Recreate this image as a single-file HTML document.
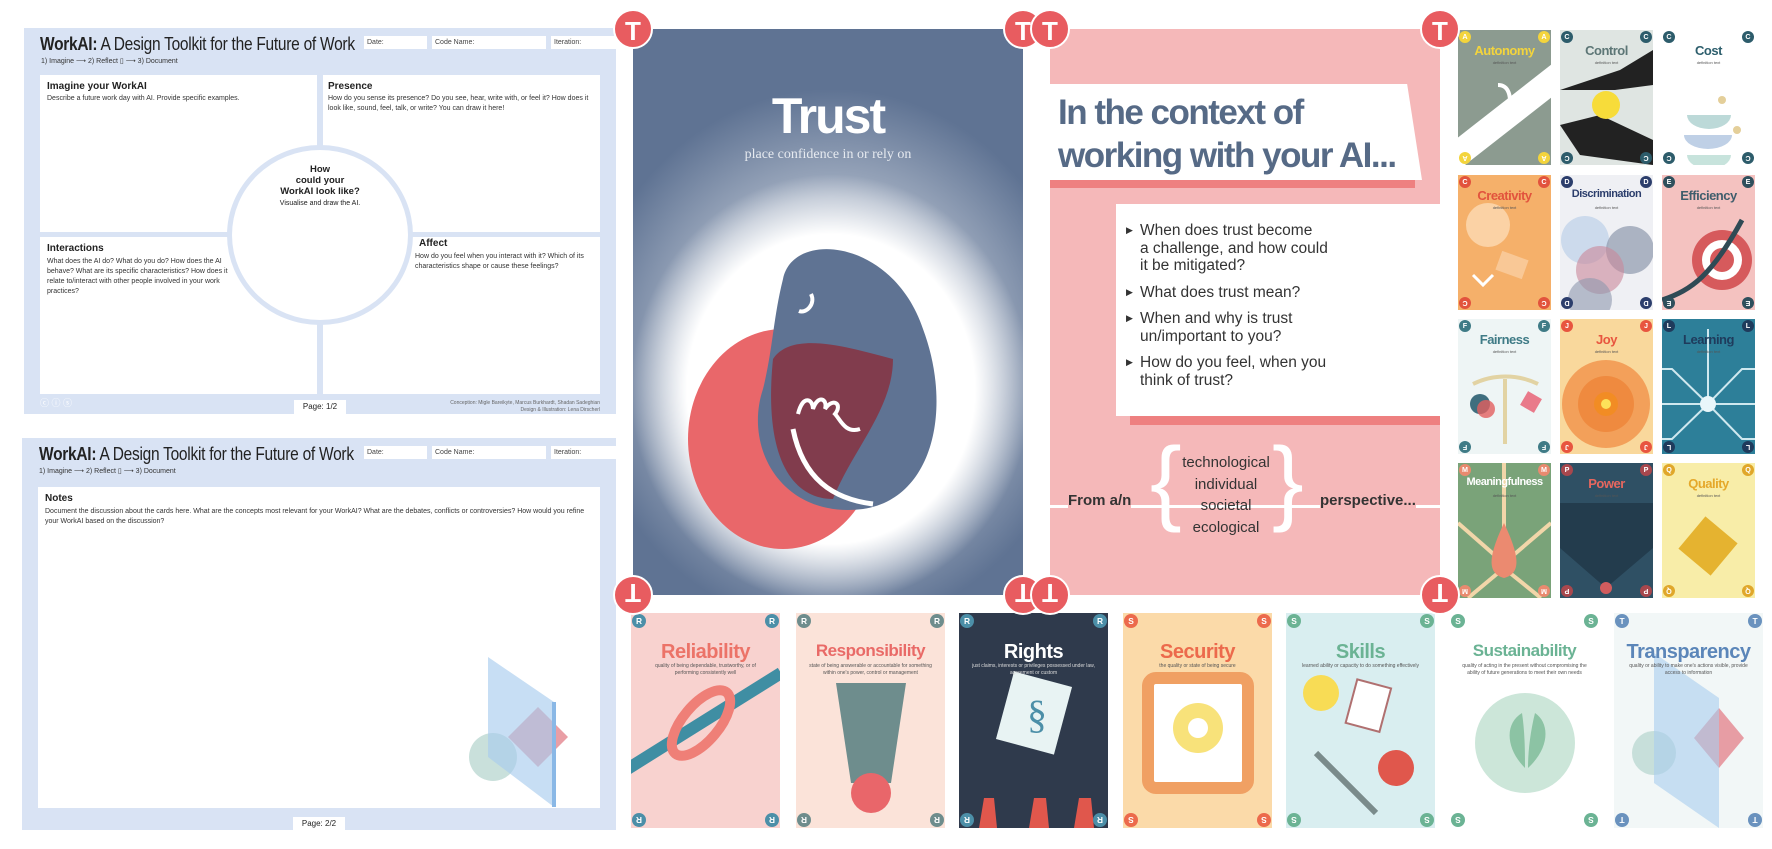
<!DOCTYPE html>
<html><head><meta charset="utf-8">
<style>
*{box-sizing:border-box;margin:0;padding:0}
body{width:1772px;height:849px;background:#fff;position:relative;overflow:hidden;font-family:"Liberation Sans",sans-serif;color:#222}
.abs{position:absolute}
.sheet{position:absolute;background:#d9e3f4}
.box{position:absolute;background:#fff}
.ttl{position:absolute;font-size:18px;white-space:nowrap;transform:scaleX(.86);transform-origin:left top;letter-spacing:-.3px}
.fld{position:absolute;background:#fff;font-size:7px;padding:3px 3px;color:#444}
.h{font-weight:bold;font-size:10px;position:absolute}
.p{font-size:7px;line-height:10px;position:absolute;color:#333}
.card{position:absolute;overflow:hidden}
.lc{position:absolute;border-radius:50%;color:#fff;font-weight:bold;text-align:center}
.ct{position:absolute;left:0;right:0;text-align:center;font-weight:bold;white-space:nowrap;letter-spacing:-.5px}
.cs{position:absolute;left:8%;right:8%;text-align:center;font-size:4px;line-height:6px;color:#555}
</style></head><body>

<!-- worksheet page 1 -->
<div class="sheet" style="left:24px;top:28px;width:592px;height:386px">
  <div class="ttl" style="left:16px;top:6px"><b>WorkAI:</b> A Design Toolkit for the Future of Work</div>
  <div class="fld" style="left:340px;top:8px;width:63px;height:13px">Date:</div>
  <div class="fld" style="left:408px;top:8px;width:114px;height:13px">Code Name:</div>
  <div class="fld" style="left:527px;top:8px;width:65px;height:13px">Iteration:</div>
  <div class="p" style="left:17px;top:29px">1) Imagine ⟶ 2) Reflect ▯ ⟶ 3) Document</div>
  <div class="box" style="left:16px;top:47px;width:277px;height:157px">
    <div class="h" style="left:7px;top:6px">Imagine your WorkAI</div>
    <div class="p" style="left:7px;top:19px">Describe a future work day with AI. Provide specific examples.</div>
  </div>
  <div class="box" style="left:299px;top:47px;width:277px;height:157px">
    <div class="h" style="left:5px;top:6px">Presence</div>
    <div class="p" style="left:5px;top:19px;width:270px">How do you sense its presence? Do you see, hear, write with, or feel it? How does it look like, sound, feel, talk, or write? You can draw it here!</div>
  </div>
  <div class="box" style="left:16px;top:209px;width:277px;height:157px">
    <div class="h" style="left:7px;top:6px">Interactions</div>
    <div class="p" style="left:7px;top:20px;width:185px">What does the AI do? What do you do? How does the AI behave? What are its specific characteristics? How does it relate to/interact with other people involved in your work practices?</div>
  </div>
  <div class="box" style="left:299px;top:209px;width:277px;height:157px">
    <div class="h" style="left:96px;top:1px">Affect</div>
    <div class="p" style="left:92px;top:15px;width:180px">How do you feel when you interact with it? Which of its characteristics shape or cause these feelings?</div>
  </div>
  <div class="abs" style="left:203px;top:117px;width:186px;height:180px;border-radius:50%;background:#fff;border:5px solid #d9e3f4">
    <div style="position:absolute;left:0;right:0;top:14px;text-align:center;font-weight:bold;font-size:9.5px;line-height:11px">How<br>could your<br>WorkAI look like?</div>
    <div style="position:absolute;left:0;right:0;top:50px;text-align:center;font-size:7px">Visualise and draw the AI.</div>
  </div>
  <div class="abs" style="left:16px;top:368px;width:62px;height:16px;font-size:9px;color:#fff">ⓒ ⓘ ⓢ</div>
  <div class="abs" style="left:270px;top:372px;width:52px;height:14px;background:#fff;font-size:8px;text-align:center;line-height:14px">Page: 1/2</div>
  <div class="abs" style="right:16px;top:372px;font-size:5px;line-height:7px;text-align:right;color:#666">Conception: Migle Bareikyte, Marcus Burkhardt, Shadan Sadeghian<br>Design &amp; Illustration: Lena Dirscherl</div>
</div>

<!-- worksheet page 2 -->
<div class="sheet" style="left:22px;top:438px;width:594px;height:392px">
  <div class="ttl" style="left:17px;top:6px"><b>WorkAI:</b> A Design Toolkit for the Future of Work</div>
  <div class="fld" style="left:342px;top:8px;width:63px;height:13px">Date:</div>
  <div class="fld" style="left:410px;top:8px;width:114px;height:13px">Code Name:</div>
  <div class="fld" style="left:529px;top:8px;width:65px;height:13px">Iteration:</div>
  <div class="p" style="left:17px;top:29px">1) Imagine ⟶ 2) Reflect ▯ ⟶ 3) Document</div>
  <div class="box" style="left:16px;top:49px;width:562px;height:321px">
    <div class="h" style="left:7px;top:6px">Notes</div>
    <div class="p" style="left:7px;top:20px;width:550px">Document the discussion about the cards here. What are the concepts most relevant for your WorkAI? What are the debates, conflicts or controversies? How would you refine your WorkAI based on the discussion?</div>
    <svg class="abs" style="left:420px;top:170px" width="140" height="150">
      <circle cx="35" cy="100" r="24" fill="#bcd8d2" opacity=".8"/>
      <polygon points="80,50 110,80 80,110 50,80" fill="#e58d95" opacity=".85"/>
      <polygon points="30,0 96,45 96,150 30,100" fill="#a9cdee" opacity=".65"/>
      <line x1="96" y1="45" x2="96" y2="150" stroke="#8ab8e6" stroke-width="4"/>
    </svg>
  </div>
  <div class="abs" style="left:271px;top:379px;width:52px;height:13px;background:#fff;font-size:8px;text-align:center;line-height:13px">Page: 2/2</div>
</div>

<!-- Trust card -->
<div class="card" style="left:633px;top:29px;width:390px;height:566px;background:#5f7393">
  <svg class="abs" style="left:0;top:0" width="390" height="566">
    <defs>
      <radialGradient id="g1" cx=".5" cy=".5" r=".5"><stop offset="0" stop-color="#fff"/><stop offset=".72" stop-color="#fff"/><stop offset="1" stop-color="#fff" stop-opacity="0"/></radialGradient>
      <radialGradient id="g0" cx=".5" cy=".5" r=".5"><stop offset="0" stop-color="#b4bfce"/><stop offset=".6" stop-color="#a3afc2"/><stop offset="1" stop-color="#a3afc2" stop-opacity="0"/></radialGradient>
    </defs>
    <ellipse cx="200" cy="330" rx="250" ry="270" fill="url(#g0)"/>
    <ellipse cx="198" cy="360" rx="200" ry="215" fill="url(#g1)"/>
    <ellipse cx="150" cy="410" rx="95" ry="110" fill="#e9676a"/>
    <path d="M150,250 C160,200 260,210 290,300 C320,380 300,470 230,480 C150,490 110,420 130,360 C140,320 140,290 150,250Z" fill="#5f7393"/>
    <path d="M140,330 C160,300 220,320 260,330 C260,380 220,420 200,470 C160,470 130,430 140,330Z" fill="#8a2e3c" opacity=".8"/>
    <path d="M160,400 C170,450 200,470 240,475" stroke="#fff" stroke-width="5" fill="none"/>
    <path d="M165,385 c5,-20 15,-15 15,-5 c5,-15 15,-10 12,0 c8,-12 18,-5 10,5 c5,5 10,20 25,15" stroke="#fff" stroke-width="4" fill="none"/>
    <path d="M178,265 c5,10 -5,20 -12,17" stroke="#fff" stroke-width="4" fill="none"/>
  </svg>
  <div class="abs" style="left:0;right:0;top:58px;text-align:center;color:#fff;font-weight:bold;font-size:50px;letter-spacing:-2px">Trust</div>
  <div class="abs" style="left:0;right:0;top:118px;text-align:center;color:#e6eaf0;font-family:'Liberation Serif',serif;font-size:14px">place confidence in or rely on</div>
</div>

<!-- Context card -->
<div class="card" style="left:1050px;top:29px;width:390px;height:566px;background:#f5b8b9">
  <div class="abs" style="left:0;top:150px;width:365px;height:9px;background:#ee8080"></div>
  <div class="abs" style="left:0;top:55px;width:372px;height:96px;background:#fff;clip-path:polygon(0 0,96% 0,100% 100%,0 100%)"></div>
  <div class="abs" style="left:8px;top:62px;color:#566a86;font-weight:bold;font-size:35px;line-height:43px;letter-spacing:-1.5px;white-space:nowrap">In the context of<br>working with your AI...</div>
  <div class="abs" style="left:80px;top:387px;width:310px;height:9px;background:#ee8080"></div>
  <div class="abs" style="left:66px;top:175px;width:324px;height:212px;background:#fff">
    <div style="position:absolute;left:24px;top:18px;font-size:15.5px;line-height:17.5px;color:#333">
      <div style="position:relative;margin-bottom:9px"><span style="position:absolute;left:-14px;font-size:9px">▶</span>When does trust become<br>a challenge, and how could<br>it be mitigated?</div>
      <div style="position:relative;margin-bottom:9px"><span style="position:absolute;left:-14px;font-size:9px">▶</span>What does trust mean?</div>
      <div style="position:relative;margin-bottom:9px"><span style="position:absolute;left:-14px;font-size:9px">▶</span>When and why is trust<br>un/important to you?</div>
      <div style="position:relative"><span style="position:absolute;left:-14px;font-size:9px">▶</span>How do you feel, when you<br>think of trust?</div>
    </div>
  </div>
  <div class="abs" style="left:0;top:476px;width:390px;height:3px;background:#fff"></div>
  <div class="abs" style="left:18px;top:463px;font-weight:bold;font-size:15px;color:#333;background:#f5b8b9">From a/n</div>
  <div class="abs" style="left:100px;top:405px;font-size:95px;color:#fff;line-height:1">{</div>
  <div class="abs" style="left:222px;top:405px;font-size:95px;color:#fff;line-height:1">}</div>
  <div class="abs" style="left:120px;top:423px;width:112px;text-align:center;font-size:15px;line-height:21.5px;color:#333">technological<br>individual<br>societal<br>ecological</div>
  <div class="abs" style="left:270px;top:463px;font-weight:bold;font-size:15px;color:#333;background:#f5b8b9">perspective...</div>
</div>

<div id="cards"></div>

<script>
const bigCards = [[633,29,390,566],[1050,29,390,566]];
bigCards.forEach(function(c){
  [[0,0,false],[1,0,false],[0,1,true],[1,1,true]].forEach(function(p){
    const d=document.createElement('div');
    
    
    d.className='lc';
    d.style.cssText='left:'+(c[0]+p[0]*c[2]-20)+'px;top:'+(c[1]+p[1]*c[3]-20)+'px;width:40px;height:40px;line-height:40px;font-size:26px;background:#e85c60;z-index:3;border:2px solid #fff;'+(p[2]?'transform:rotate(180deg);':'');
    d.textContent='T';
    document.body.appendChild(d);
  });
});

const names=['Autonomy','Control','Cost','Creativity','Discrimination','Efficiency','Fairness','Joy','Learning','Meaningfulness','Power','Quality'];
const letters=['A','C','C','C','D','E','F','J','L','M','P','Q'];
const bgs=['#8c9b90','#dfe5e2','#ffffff','#f5b06a','#eff0f4','#f4c2c0','#eef5f5','#f9d89c','#2d7f99','#7aa379','#2f5064','#f8eda8'];
const tcols=['#f3d43c','#5d7676','#2e5f6d','#e2533d','#2c3e6c','#3f5d6c','#3f7b86','#e8553f','#1f3b5c','#ffffff','#e6675f','#e5a82a'];
const bcols=['#f3d43c','#2d5c6b','#2d5c6b','#e2533d','#2c3e6c','#2f4f5c','#3f7b86','#e8553f','#1f3b5c','#e98a6f','#a8474d','#e0a72a'];
const colX=[1458,1560,1662], rowY=[30,175,319,463];
const host=document.getElementById('cards');
function badges(x,y,w,h,r,col,letter){
  [[0,0],[1,0],[0,1],[1,1]].forEach(function(p){
    const b=document.createElement('div');
    
    
    b.className='lc';
    const lx = p[0] ? x+w-2*r-1 : x+1;
    const ty = p[1] ? y+h-2*r-1 : y+1;
    b.style.cssText='left:'+lx+'px;top:'+ty+'px;width:'+(2*r)+'px;height:'+(2*r)+'px;line-height:'+(2*r)+'px;font-size:'+(r*1.2)+'px;background:'+col+';z-index:3;'+(p[1]?'transform:rotate(180deg);':'');
    b.textContent=letter;
    host.appendChild(b);
  });
}
const illus=[
 '<rect x="-20" y="75" width="150" height="26" fill="#fff" transform="rotate(-38 46 88)"/><path d="M40,55 c10,0 15,10 10,30" stroke="#fff" stroke-width="4" fill="none"/>',
 '<path d="M0,60 L60,40 L93,20 L93,55 L55,60Z" fill="#222"/><path d="M0,95 L40,85 L93,110 L93,135 L20,125Z" fill="#222"/><circle cx="46" cy="75" r="14" fill="#f7dc3a"/>',
 '<path d="M25,85 a22,14 0 0 0 44,0Z" fill="#bcd9d8"/><path d="M22,105 a24,14 0 0 0 48,0Z" fill="#bfd0e6"/><path d="M25,125 a22,14 0 0 0 44,0Z" fill="#c7e3dc"/><circle cx="60" cy="70" r="4" fill="#e4cf9a"/><circle cx="75" cy="100" r="4" fill="#e4cf9a"/>',
 '<circle cx="30" cy="50" r="22" fill="#fbd2a5"/><rect x="40" y="80" width="28" height="20" fill="#f9c896" transform="rotate(20 54 90)"/><path d="M15,100 l10,10 l10,-10" stroke="#fff" stroke-width="3" fill="none"/>',
 '<circle cx="25" cy="65" r="24" fill="#c3d4ea" opacity=".8"/><circle cx="70" cy="75" r="24" fill="#8e98ad" opacity=".7"/><circle cx="40" cy="95" r="24" fill="#c9879a" opacity=".6"/><circle cx="30" cy="125" r="22" fill="#8e98ad" opacity=".6"/>',
 '<circle cx="60" cy="85" r="30" fill="#d65a5c"/><circle cx="60" cy="85" r="20" fill="#fff"/><circle cx="60" cy="85" r="12" fill="#d65a5c"/><path d="M0,125 C30,115 50,100 80,45" stroke="#2f4a55" stroke-width="5" fill="none"/>',
 '<path d="M15,65 C35,55 60,55 80,65" stroke="#e2d3a3" stroke-width="4" fill="none"/><rect x="45" y="60" width="4" height="65" fill="#e2d3a3"/><circle cx="22" cy="85" r="10" fill="#3f6e7e"/><circle cx="28" cy="90" r="9" fill="#e25f5f" opacity=".8"/><rect x="65" y="75" width="16" height="16" fill="#e97a8a" transform="rotate(30 73 83)"/>',
 '<circle cx="46" cy="85" r="44" fill="#f3a05a"/><circle cx="46" cy="85" r="28" fill="#ef8a3f"/><circle cx="46" cy="85" r="12" fill="#f28c24"/><circle cx="46" cy="85" r="5" fill="#fde15a"/>',
 '<g stroke="#cfe8ef" stroke-width="2" fill="none"><path d="M46,85 L10,50 L0,50"/><path d="M46,85 L80,50 L93,50"/><path d="M46,85 L10,120 L0,120"/><path d="M46,85 L80,120 L93,120"/><path d="M46,85 L46,10"/><path d="M46,85 L0,85"/><path d="M46,85 L93,85"/></g><circle cx="46" cy="85" r="8" fill="#e9f6fa"/>',
 '<g stroke="#f2d6a9" stroke-width="4"><line x1="46" y1="0" x2="46" y2="70"/><line x1="0" y1="60" x2="40" y2="95"/><line x1="93" y1="60" x2="52" y2="95"/><line x1="10" y1="135" x2="40" y2="110"/><line x1="83" y1="135" x2="52" y2="110"/></g><path d="M46,60 C60,90 65,110 46,115 C27,110 32,90 46,60Z" fill="#eb8a70"/>',
 '<path d="M0,40 L93,40 L93,85 L46,125 L0,85Z" fill="#233c4d"/><circle cx="46" cy="125" r="6" fill="#d15c5e"/>',
 '<rect x="25" y="62" width="42" height="42" fill="#e5b330" transform="rotate(40 46 83)"/>'
];
names.forEach(function(n,i){
  const x=colX[i%3], y=rowY[Math.floor(i/3)], w=93, h=135;
  const c=document.createElement('div');
  
  
  c.className='card';
  c.style.cssText='left:'+x+'px;top:'+y+'px;width:'+w+'px;height:'+h+'px;background:'+bgs[i];
  c.innerHTML='<svg style="position:absolute;left:0;top:0" width="93" height="135">'+illus[i]+'</svg><div class="ct" style="top:13px;font-size:'+(n.length>10?11:13)+'px;color:'+tcols[i]+'">'+n+'</div><div class="cs" style="top:30px">definition text</div>';
  host.appendChild(c);
  badges(x,y,w,h,6,bcols[i],letters[i]);
});

const bNames=['Reliability','Responsibility','Rights','Security','Skills','Sustainability','Transparency'];
const bLetters=['R','R','R','S','S','S','T'];
const bBgs=['#f8d2cf','#fbe3d9','#2f3a4c','#fbdaa9','#d9eef0','#ffffff','#f2f7f7'];
const bT=['#ec7368','#e96a67','#ffffff','#ec6a4c','#6bb394','#6bb394','#5b86b9'];
const bB=['#4c8fa8','#6e8d8d','#4c8fa8','#ec6a4c','#6bb394','#6bb394','#6a92be'];
const bX=[631,796,959,1123,1286,1450,1614];
const bDefs=['quality of being dependable, trustworthy, or of performing consistently well','state of being answerable or accountable for something within one\'s power, control or management','just claims, interests or privileges possessed under law, agreement or custom','the quality or state of being secure','learned ability or capacity to do something effectively','quality of acting in the present without compromising the ability of future generations to meet their own needs','quality or ability to make one\'s actions visible, provide access to information'];
const bIll=[
 '<path d="M-10,160 L150,60" stroke="#3f8ea3" stroke-width="12"/><ellipse cx="70" cy="110" rx="18" ry="40" transform="rotate(40 70 110)" fill="none" stroke="#ef7f77" stroke-width="10"/>',
 '<path d="M40,70 L110,70 L95,170 L55,170Z" fill="#6e8d8d"/><circle cx="75" cy="180" r="20" fill="#e9666a"/>',
 '<rect x="45" y="65" width="60" height="70" fill="#e8f3f3" transform="rotate(15 75 100)"/><text x="68" y="115" font-size="40" fill="#4c8fa8" font-family="Liberation Serif">§</text><path d="M20,215 l5,-30 l10,0 l3,30Z M70,215 l5,-30 l12,0 l3,30Z M115,215 l5,-30 l12,0 l3,30Z" fill="#e0574c"/>',
 '<rect x="25" y="65" width="100" height="110" rx="8" fill="#fff" stroke="#f0a063" stroke-width="12"/><circle cx="75" cy="115" r="25" fill="#f8e27a"/><circle cx="75" cy="115" r="10" fill="#fff"/>',
 '<circle cx="35" cy="80" r="18" fill="#f8dc55"/><rect x="65" y="70" width="35" height="45" fill="#fff" stroke="#b07070" stroke-width="2" transform="rotate(15 82 92)"/><circle cx="110" cy="155" r="18" fill="#e0574c"/><path d="M30,140 L90,200" stroke="#7a8b8b" stroke-width="6"/>',
 '<circle cx="75" cy="130" r="50" fill="#bfe0cf" opacity=".8"/><path d="M75,155 C55,135 55,110 72,100 C75,120 75,140 75,155Z M78,155 C100,135 100,110 85,100 C80,120 78,140 78,155Z" fill="#8cc3a4"/>',
 '<circle cx="40" cy="140" r="22" fill="#bcd8d2" opacity=".8"/><polygon points="105,95 130,125 105,155 80,125" fill="#e58d95" opacity=".85"/><polygon points="40,40 105,85 105,215 40,170" fill="#a9cdee" opacity=".6"/>'
];
bNames.forEach(function(n,i){
  const x=bX[i], y=613, w=149, h=215;
  const c=document.createElement('div');
  
  
  c.className='card';
  c.style.cssText='left:'+x+'px;top:'+y+'px;width:'+w+'px;height:'+h+'px;background:'+bBgs[i];
  c.innerHTML='<svg style="position:absolute;left:0;top:0" width="149" height="215">'+bIll[i]+'</svg><div class="ct" style="top:28px;font-size:'+(n.length>12?17:20)+'px;color:'+bT[i]+'">'+n+'</div><div class="cs" style="top:50px;font-size:5px;line-height:6.5px;color:'+(i==2?'#ddd':'#555')+'">'+bDefs[i]+'</div>';
  host.appendChild(c);
  badges(x,y,w,h,7,bB[i],bLetters[i]);
});
</script>
</body></html>
